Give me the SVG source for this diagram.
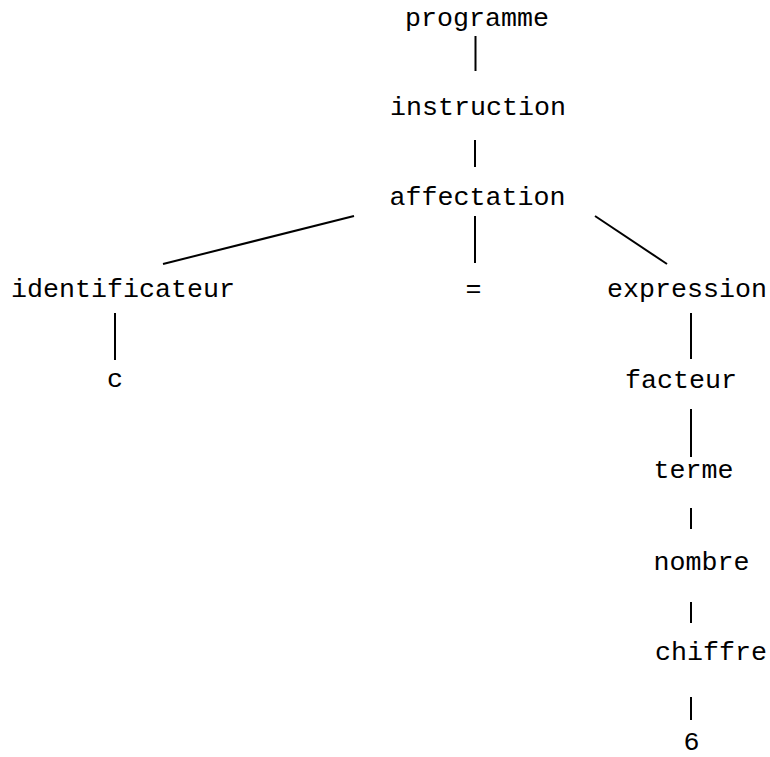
<svg xmlns="http://www.w3.org/2000/svg" width="770" height="757" viewBox="0 0 770 757">
<style>
  text { font-family: "Liberation Mono", "Courier New", monospace; font-size: 26.67px; fill: #000; text-anchor: middle; }
  .edge { stroke: #000; stroke-width: 2; fill: none; }
</style>
<rect width="770" height="757" fill="#fff"/>
<g id="connectors">
  <line class="edge" x1="475.5" y1="36" x2="475.5" y2="71"/>
  <line class="edge" x1="475" y1="140" x2="475" y2="167"/>
  <line class="edge" x1="475" y1="216" x2="475" y2="263"/>
  <line class="edge" x1="354" y1="216" x2="163" y2="264"/>
  <line class="edge" x1="595" y1="216" x2="667" y2="264"/>
  <line class="edge" x1="115" y1="313" x2="115" y2="360"/>
  <line class="edge" x1="691" y1="313" x2="691" y2="359"/>
  <line class="edge" x1="691" y1="409" x2="691" y2="457"/>
  <line class="edge" x1="691" y1="508" x2="691" y2="529"/>
  <line class="edge" x1="691" y1="602" x2="691" y2="623"/>
  <line class="edge" x1="691" y1="697" x2="691" y2="720"/>
</g>
<g id="programme"><text x="477" y="26">programme</text></g>
<g id="instruction"><text x="478" y="115">instruction</text></g>
<g id="affectation"><text x="477.5" y="205">affectation</text></g>
<g id="identificateur"><text x="123" y="297">identificateur</text></g>
<g id="egal"><text x="473.5" y="297">=</text></g>
<g id="expression"><text x="687" y="297">expression</text></g>
<g id="c"><text x="115" y="387">c</text></g>
<g id="facteur"><text x="681" y="388">facteur</text></g>
<g id="terme"><text x="693.5" y="478">terme</text></g>
<g id="nombre"><text x="701.5" y="570">nombre</text></g>
<g id="chiffre"><text x="711" y="660">chiffre</text></g>
<g id="six"><text x="691.5" y="750">6</text></g>
</svg>
